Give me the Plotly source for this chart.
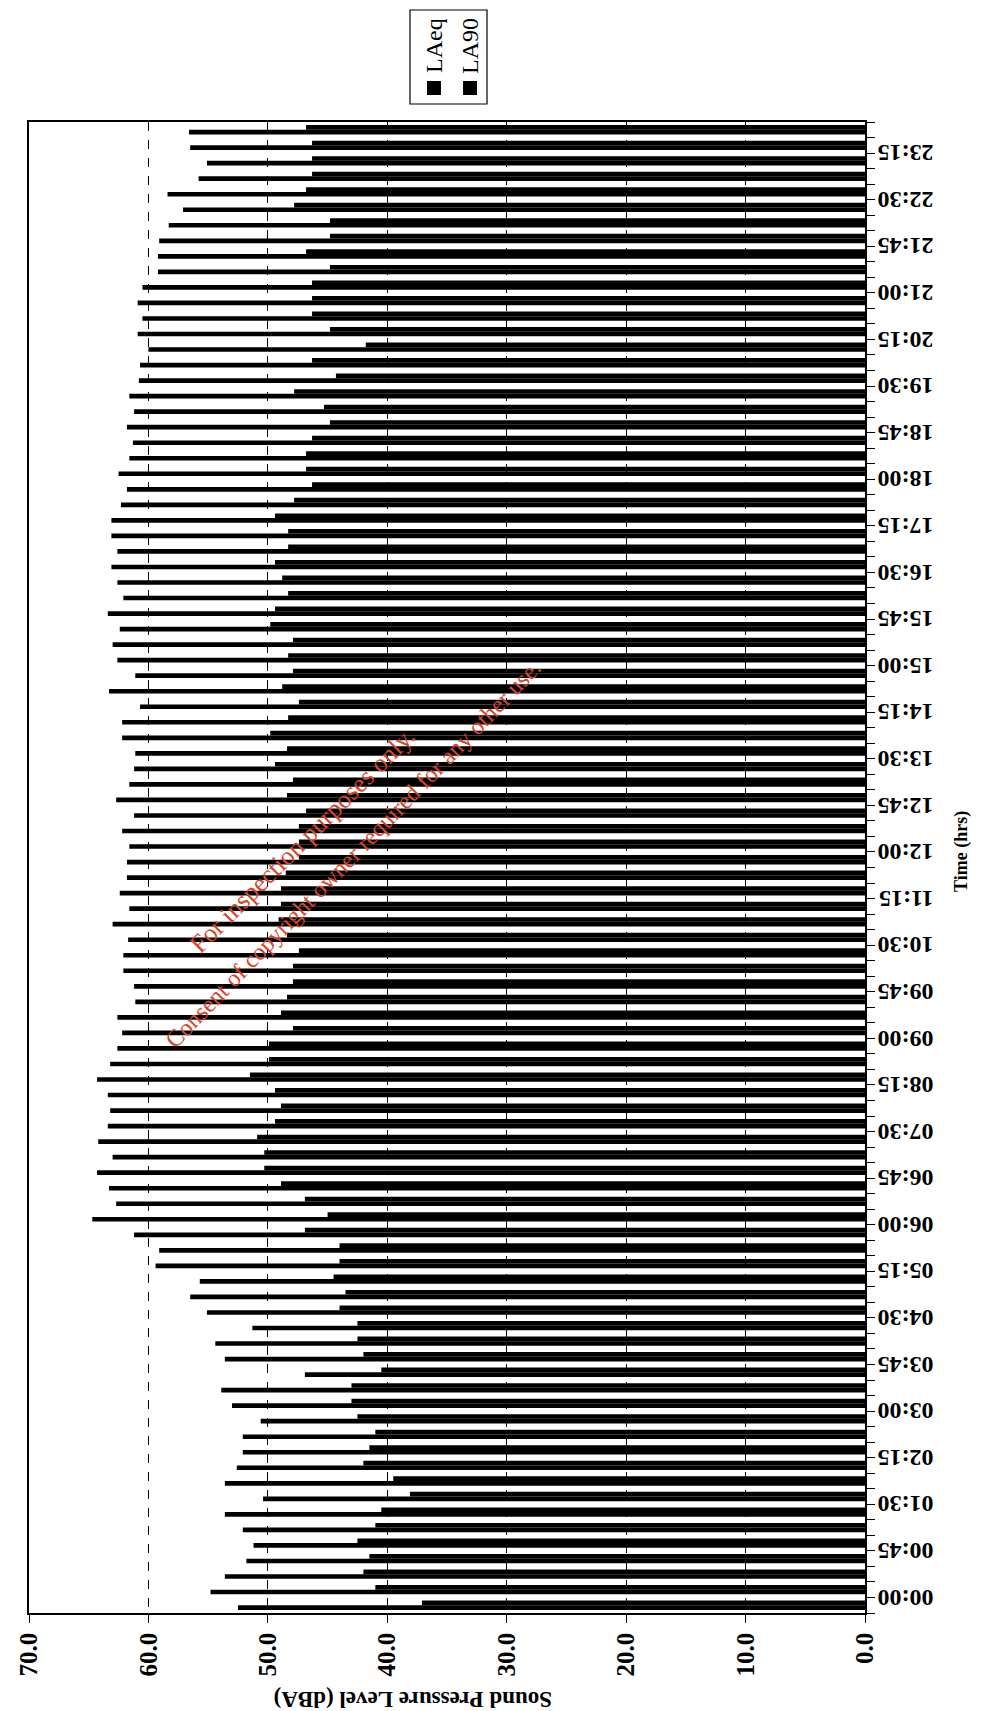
import plotly.graph_objects as go

# ---- data ----
times = [f"{h:02d}:{m:02d}" for h in range(24) for m in (0, 15, 30, 45)]
tick_labels = [t if i % 3 == 0 else "" for i, t in enumerate(times)]

laeq = [52.5, 54.8, 53.6, 51.8, 51.2, 52.1, 53.6, 50.4, 53.6, 52.6,
        52.1, 52.1, 50.6, 53.0, 53.9, 46.9, 53.6, 54.4, 51.3, 55.1,
        56.5, 55.7, 59.4, 59.1, 61.2, 64.7, 62.7, 63.3, 64.3, 63.0,
        64.2, 63.4, 63.2, 63.4, 64.3, 63.2, 62.6, 62.2, 62.6, 61.1,
        61.2, 62.1, 62.1, 61.7, 63.0, 61.6, 62.4, 61.8, 61.8, 61.6,
        62.2, 61.2, 62.7, 61.6, 61.2, 61.1, 62.2, 62.2, 60.7, 63.3,
        61.1, 62.6, 63.0, 62.4, 63.4, 62.1, 62.6, 63.1, 62.6, 63.1,
        63.1, 62.3, 61.8, 62.5, 61.6, 61.3, 61.8, 61.2, 61.6, 60.8,
        60.7, 60.0, 60.9, 60.5, 60.9, 60.5, 59.2, 59.2, 59.1, 58.3,
        57.1, 58.4, 55.8, 55.1, 56.5, 56.6]

la90 = [37.1, 41.0, 42.0, 41.5, 42.5, 41.0, 40.5, 38.1, 39.5, 42.0,
        41.5, 41.0, 42.5, 43.0, 43.0, 40.5, 42.0, 42.5, 42.5, 44.0,
        43.5, 44.5, 44.0, 44.0, 46.9, 45.0, 46.9, 48.9, 50.3, 50.3,
        50.9, 49.4, 48.9, 49.4, 51.5, 49.9, 49.9, 47.9, 48.9, 48.4,
        47.9, 47.9, 47.4, 48.4, 49.1, 48.9, 48.9, 48.5, 47.4, 47.4,
        47.4, 46.8, 48.4, 47.9, 49.4, 48.4, 49.8, 48.3, 47.4, 48.8,
        47.9, 48.3, 47.9, 49.8, 49.4, 48.3, 48.8, 49.4, 48.3, 48.3,
        49.4, 47.8, 46.3, 46.8, 46.8, 46.3, 44.8, 45.3, 47.8, 44.3,
        46.3, 41.8, 44.8, 46.3, 46.3, 46.3, 44.8, 46.8, 44.8, 44.8,
        47.8, 46.8, 46.3, 46.3, 46.3, 46.8]

series_names = ["LAeq", "LA90"]
x_ticks = [0, 10, 20, 30, 40, 50, 60, 70]

# ---- layout geometry ----
W, H = 988, 1711
L, R, T, B = 21, 131, 114, 106
PW, PH = W - L - R, H - T - B

def px(x):
    return (x - L) / PW

def py(y):
    return (H - B - y) / PH

SERIF = "Liberation Serif, Times New Roman, serif"

fig = go.Figure()
fig.add_trace(go.Bar(y=times, x=laeq, orientation="h", name=series_names[0],
                     marker=dict(color="black", line=dict(width=0))))
fig.add_trace(go.Bar(y=times, x=la90, orientation="h", name=series_names[1],
                     marker=dict(color="black", line=dict(width=0))))

fig.update_layout(
    width=W, height=H,
    margin=dict(l=L, r=R, t=T, b=B, autoexpand=False),
    paper_bgcolor="white", plot_bgcolor="white",
    barmode="group", bargap=0.4, bargroupgap=0.0,
    showlegend=False,
    font=dict(family=SERIF, color="black"),
)

fig.update_xaxes(
    range=[70, 0], tickmode="array", tickvals=x_ticks,
    ticktext=[f"{v:.1f}" for v in x_ticks],
    tickangle=-90, tickfont=dict(family=SERIF, size=25, weight="bold", color="black"),
    ticks="outside", ticklen=8, tickcolor="black", tickwidth=1,
    showline=True, linecolor="black", linewidth=1.5, mirror=True,
    showgrid=True, gridcolor="black", gridwidth=1, griddash="dash",
    zeroline=False, automargin=False,
)

fig.update_yaxes(
    side="right", type="category", categoryorder="array", categoryarray=times,
    tickmode="array", tickvals=times, ticktext=tick_labels,
    tickson="boundaries", tickangle=180, ticklabelstandoff=62,
    tickfont=dict(family=SERIF, size=24, weight="bold", color="black"),
    ticks="outside", ticklen=8, tickcolor="black", tickwidth=1,
    showline=True, linecolor="black", linewidth=1.5, mirror=True,
    showgrid=False, zeroline=False, automargin=False,
)

# axis titles (rotated like the scanned page)
fig.add_annotation(text="Sound Pressure Level (dBA)", xref="paper", yref="paper",
                   x=px(405), y=py(1692), xanchor="center", yanchor="middle",
                   textangle=180, showarrow=False,
                   font=dict(family=SERIF, size=23, weight="bold", color="black"))
fig.add_annotation(text="Time (hrs)", xref="paper", yref="paper",
                   x=px(953), y=py(844), xanchor="center", yanchor="middle",
                   textangle=-90, showarrow=False,
                   font=dict(family=SERIF, size=18, weight="bold", color="black"))

# custom rotated legend
fig.add_shape(type="rect", xref="paper", yref="paper",
              x0=px(402), x1=px(479), y0=py(96), y1=py(2),
              line=dict(color="black", width=1.2), fillcolor="white")
for name, cx in zip(series_names, [426, 462]):
    fig.add_shape(type="rect", xref="paper", yref="paper",
                  x0=px(cx - 7), x1=px(cx + 7), y0=py(87), y1=py(73),
                  line=dict(color="black", width=0), fillcolor="black")
    fig.add_annotation(text=name, xref="paper", yref="paper",
                       x=px(cx), y=py(38), xanchor="center", yanchor="middle",
                       textangle=-90, showarrow=False,
                       font=dict(family=SERIF, size=24, color="black"))

# watermark
WM = "#d4472d"
fig.add_annotation(text="For inspection purposes only.", xref="paper", yref="paper",
                   x=px(294), y=py(832), xanchor="center", yanchor="middle",
                   textangle=-45, showarrow=False,
                   font=dict(family=SERIF, size=26, color=WM))
fig.add_annotation(text="Consent of copyright owner required for any other use.",
                   xref="paper", yref="paper",
                   x=px(345), y=py(846), xanchor="center", yanchor="middle",
                   textangle=-46, showarrow=False,
                   font=dict(family=SERIF, size=24, color=WM))

fig.write_html("out.html")
